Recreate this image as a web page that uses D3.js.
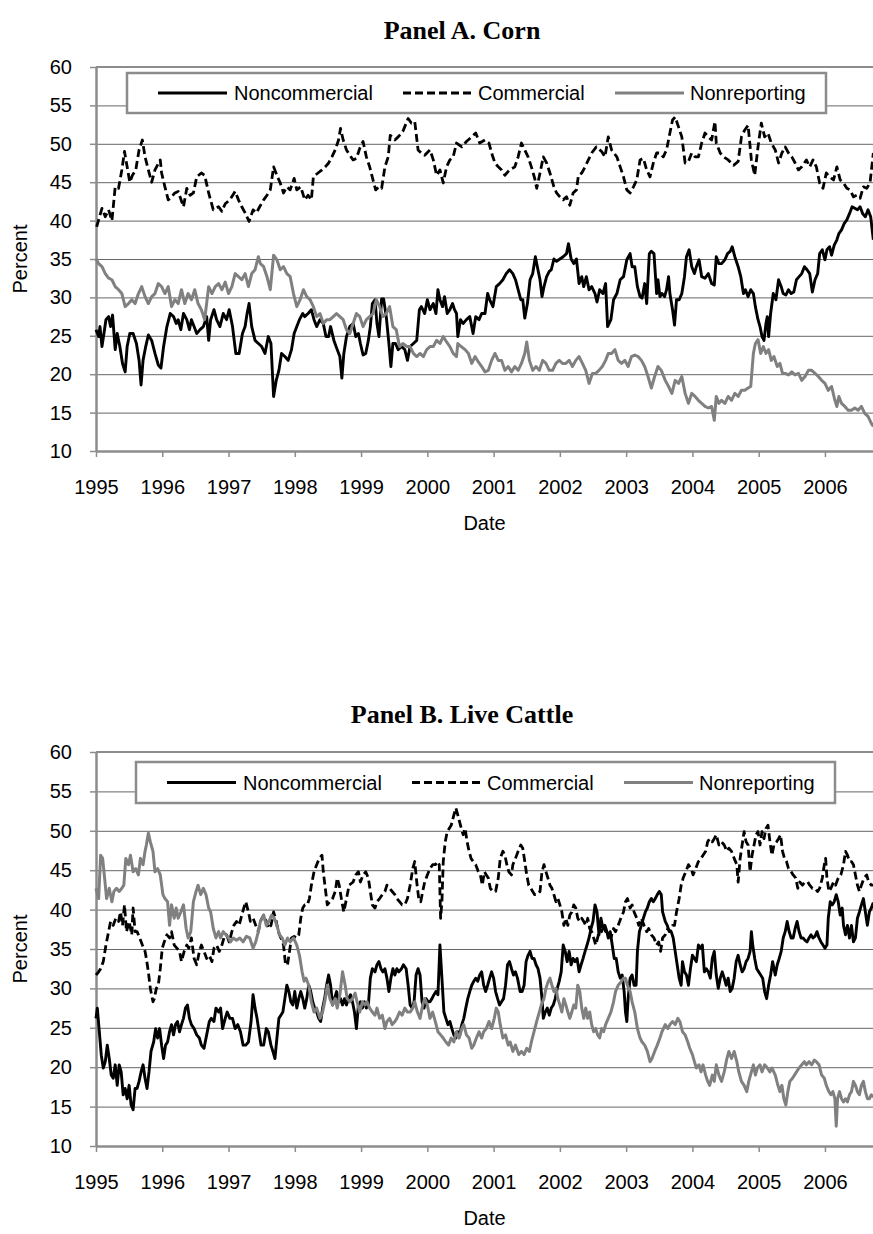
<!DOCTYPE html>
<html>
<head>
<meta charset="utf-8">
<script src="https://cdn.jsdelivr.net/npm/d3@7"></script>
<style>
  html, body { margin: 0; padding: 0; background: #fff; }
  svg { display: block; }
</style>
</head>
<body>
<svg id="chart" width="873" height="1234"></svg>
<script>
// ---- Tick labels -------------------------------------------------------
const yearTicks = [1995, 1996, 1997, 1998, 1999, 2000, 2001, 2002, 2003, 2004, 2005, 2006];
const percentTicks = [10, 15, 20, 25, 30, 35, 40, 45, 50, 55, 60];
const seriesNames = ["Noncommercial", "Commercial", "Nonreporting"];
const panelTitles = ["Panel A. Corn", "Panel B. Live Cattle"];

// ---- Panel A: Corn, share of open interest [decimal year, percent] ------
const cornNoncommercial = [
  [1995.00,25.8],[1995.04,24.9],[1995.06,26.2],[1995.09,23.6],[1995.12,25.3],[1995.15,27.1],[1995.19,27.5],[1995.22,26.2],
  [1995.25,27.7],[1995.29,23.2],[1995.32,25.3],[1995.36,23.6],[1995.40,21.4],[1995.44,20.3],[1995.47,23.6],[1995.51,25.3],
  [1995.56,25.3],[1995.61,24.0],[1995.65,21.8],[1995.68,18.6],[1995.71,21.8],[1995.75,23.6],[1995.79,25.1],[1995.84,24.4],
  [1995.89,22.7],[1995.94,21.2],[1995.98,20.8],[1996.02,23.6],[1996.07,26.2],[1996.12,27.9],[1996.17,27.5],[1996.21,26.6],
  [1996.24,27.1],[1996.28,25.8],[1996.32,27.9],[1996.37,27.1],[1996.41,25.8],[1996.44,27.1],[1996.48,26.2],[1996.52,25.3],
  [1996.57,25.8],[1996.62,26.2],[1996.67,27.5],[1996.70,24.4],[1996.73,27.1],[1996.78,28.4],[1996.82,27.1],[1996.87,26.2],
  [1996.92,27.9],[1996.97,27.1],[1997.01,28.4],[1997.06,26.2],[1997.11,22.7],[1997.16,22.7],[1997.21,25.3],[1997.25,26.2],
  [1997.28,27.9],[1997.31,29.2],[1997.35,26.2],[1997.40,24.4],[1997.45,24.0],[1997.50,23.6],[1997.55,22.7],[1997.60,24.9],
  [1997.64,24.0],[1997.68,17.1],[1997.72,19.2],[1997.76,20.5],[1997.80,22.7],[1997.85,22.3],[1997.90,21.8],[1997.95,23.2],
  [1997.99,25.3],[1998.03,26.2],[1998.07,27.1],[1998.12,27.9],[1998.15,27.5],[1998.20,27.9],[1998.25,28.4],[1998.29,27.1],
  [1998.33,26.2],[1998.38,27.1],[1998.43,26.6],[1998.47,24.9],[1998.51,24.9],[1998.54,26.2],[1998.59,24.4],[1998.64,23.2],
  [1998.68,22.3],[1998.71,19.5],[1998.74,22.7],[1998.78,24.9],[1998.83,26.2],[1998.88,26.6],[1998.92,24.9],[1998.96,25.3],
  [1998.99,24.0],[1999.03,22.5],[1999.07,22.7],[1999.11,24.4],[1999.14,26.2],[1999.17,29.2],[1999.21,29.7],[1999.24,26.6],
  [1999.27,24.9],[1999.31,29.8],[1999.34,29.8],[1999.38,27.5],[1999.42,24.0],[1999.45,21.0],[1999.48,24.0],[1999.52,24.0],
  [1999.56,23.2],[1999.61,23.6],[1999.66,23.2],[1999.70,21.8],[1999.74,23.6],[1999.79,24.0],[1999.84,24.4],[1999.88,28.4],
  [1999.91,28.8],[1999.96,27.9],[2000.00,29.7],[2000.04,28.4],[2000.09,29.2],[2000.13,27.9],[2000.16,31.0],[2000.19,29.7],
  [2000.23,28.8],[2000.26,30.1],[2000.30,27.9],[2000.34,28.4],[2000.38,29.2],[2000.41,28.4],[2000.44,27.9],[2000.46,24.9],
  [2000.50,27.1],[2000.54,26.6],[2000.59,27.1],[2000.64,27.5],[2000.69,25.3],[2000.73,27.5],[2000.78,27.1],[2000.82,27.9],
  [2000.87,27.9],[2000.91,30.5],[2000.94,29.7],[2000.99,28.8],[2001.04,31.4],[2001.09,31.8],[2001.14,32.3],[2001.19,33.1],
  [2001.24,33.6],[2001.29,33.1],[2001.33,32.3],[2001.37,31.0],[2001.41,29.7],[2001.44,29.7],[2001.47,27.3],[2001.51,29.2],
  [2001.55,32.3],[2001.59,33.1],[2001.63,35.3],[2001.66,34.0],[2001.70,32.3],[2001.73,30.1],[2001.76,31.4],[2001.80,32.7],
  [2001.84,33.4],[2001.87,33.6],[2001.91,35.0],[2001.95,34.7],[2002.00,35.0],[2002.05,35.3],[2002.10,35.7],[2002.13,37.0],
  [2002.17,35.0],[2002.21,34.4],[2002.25,35.0],[2002.29,31.8],[2002.33,32.7],[2002.36,31.4],[2002.40,32.7],[2002.44,31.0],
  [2002.48,31.4],[2002.53,30.5],[2002.56,29.4],[2002.60,31.0],[2002.65,30.5],[2002.69,31.8],[2002.72,26.2],[2002.77,27.1],
  [2002.81,29.7],[2002.86,30.5],[2002.91,32.3],[2002.96,32.7],[2003.01,34.9],[2003.06,35.7],[2003.09,34.0],[2003.13,34.0],
  [2003.17,31.4],[2003.21,30.1],[2003.24,29.9],[2003.28,31.8],[2003.31,29.2],[2003.35,35.7],[2003.38,36.0],[2003.42,35.7],
  [2003.46,30.5],[2003.48,32.3],[2003.51,30.1],[2003.54,30.5],[2003.58,30.1],[2003.61,31.0],[2003.64,32.7],[2003.66,30.5],
  [2003.70,28.4],[2003.73,26.4],[2003.76,29.7],[2003.80,29.7],[2003.84,30.5],[2003.88,32.7],[2003.91,35.3],[2003.95,36.2],
  [2003.99,34.0],[2004.03,33.1],[2004.06,34.0],[2004.10,34.9],[2004.14,32.7],[2004.19,32.5],[2004.24,33.1],[2004.29,31.8],
  [2004.33,31.6],[2004.36,35.3],[2004.40,34.4],[2004.44,34.4],[2004.49,34.9],[2004.53,35.7],[2004.57,36.0],[2004.60,36.6],
  [2004.64,35.3],[2004.69,34.0],[2004.73,32.7],[2004.77,30.5],[2004.80,31.0],[2004.84,30.1],[2004.88,31.0],[2004.92,30.5],
  [2004.95,28.8],[2004.99,27.1],[2005.02,26.2],[2005.05,24.9],[2005.08,24.4],[2005.11,26.6],[2005.13,27.5],[2005.15,24.9],
  [2005.18,27.9],[2005.22,30.5],[2005.26,29.7],[2005.30,32.3],[2005.34,31.4],[2005.37,30.5],[2005.41,30.3],[2005.45,31.0],
  [2005.49,30.5],[2005.53,30.7],[2005.57,32.3],[2005.61,32.7],[2005.65,33.1],[2005.69,34.0],[2005.73,33.6],[2005.77,33.1],
  [2005.81,30.7],[2005.85,32.3],[2005.89,33.1],[2005.92,35.7],[2005.96,36.2],[2006.00,34.9],[2006.03,36.2],[2006.07,36.6],
  [2006.10,35.5],[2006.14,36.8],[2006.18,37.5],[2006.21,38.3],[2006.25,38.8],[2006.29,39.6],[2006.33,40.1],[2006.37,40.9],
  [2006.41,41.8],[2006.45,41.6],[2006.49,41.4],[2006.53,41.8],[2006.57,40.9],[2006.61,40.5],[2006.65,41.4],[2006.69,40.5],
  [2006.73,37.5]
];

const cornCommercial = [
  [1995.01,39.2],[1995.09,41.6],[1995.14,40.5],[1995.19,41.4],[1995.24,40.0],[1995.29,44.4],[1995.34,44.2],[1995.39,46.6],
  [1995.43,49.0],[1995.47,47.0],[1995.51,45.0],[1995.55,45.9],[1995.60,46.6],[1995.65,49.2],[1995.70,50.5],[1995.74,48.3],
  [1995.79,46.6],[1995.84,45.0],[1995.89,46.6],[1995.97,47.9],[1995.99,46.2],[1996.04,44.4],[1996.09,42.7],[1996.14,43.1],
  [1996.19,43.6],[1996.24,43.8],[1996.32,41.8],[1996.37,44.2],[1996.42,43.3],[1996.47,43.6],[1996.52,45.7],[1996.59,46.2],
  [1996.64,45.9],[1996.70,43.6],[1996.77,41.4],[1996.85,41.8],[1996.90,41.2],[1996.95,42.2],[1997.02,42.7],[1997.10,43.8],
  [1997.15,42.7],[1997.20,41.8],[1997.25,41.0],[1997.31,39.9],[1997.37,41.4],[1997.42,41.0],[1997.47,41.8],[1997.53,42.7],
  [1997.58,43.3],[1997.63,44.0],[1997.68,47.0],[1997.73,45.9],[1997.78,44.9],[1997.83,43.6],[1997.88,44.4],[1997.93,44.0],
  [1997.99,45.5],[1998.03,44.0],[1998.09,44.4],[1998.15,42.7],[1998.20,43.3],[1998.25,42.7],[1998.28,45.7],[1998.35,46.2],
  [1998.41,46.6],[1998.46,47.0],[1998.51,47.5],[1998.56,48.3],[1998.61,49.2],[1998.66,50.5],[1998.69,52.0],[1998.73,50.5],
  [1998.78,49.2],[1998.83,48.5],[1998.88,47.9],[1998.93,48.1],[1998.98,49.4],[1999.03,50.3],[1999.08,48.3],[1999.13,47.0],
  [1999.18,45.3],[1999.22,44.0],[1999.27,44.4],[1999.31,44.2],[1999.36,47.0],[1999.41,48.3],[1999.44,51.1],[1999.51,50.5],
  [1999.56,50.9],[1999.63,51.6],[1999.71,53.3],[1999.76,52.7],[1999.81,52.9],[1999.86,49.2],[1999.91,48.8],[1999.96,48.5],
  [2000.04,49.2],[2000.09,47.9],[2000.14,45.9],[2000.19,46.6],[2000.24,44.9],[2000.29,47.0],[2000.34,47.9],[2000.39,48.3],
  [2000.44,50.1],[2000.52,49.6],[2000.59,50.3],[2000.67,50.9],[2000.73,51.4],[2000.79,50.1],[2000.87,50.5],[2000.93,50.1],
  [2000.97,48.8],[2001.02,47.5],[2001.07,47.0],[2001.12,46.6],[2001.17,45.9],[2001.24,46.6],[2001.32,47.0],[2001.37,48.3],
  [2001.42,50.1],[2001.47,49.2],[2001.52,48.3],[2001.57,47.0],[2001.62,45.5],[2001.65,44.2],[2001.70,46.2],[2001.75,48.3],
  [2001.80,47.5],[2001.85,46.2],[2001.91,44.4],[2001.95,43.6],[2002.00,43.1],[2002.05,42.7],[2002.10,43.1],[2002.15,42.0],
  [2002.20,43.6],[2002.25,44.0],[2002.28,45.9],[2002.33,46.2],[2002.38,47.0],[2002.43,47.9],[2002.48,48.8],[2002.55,49.6],
  [2002.63,49.0],[2002.68,48.3],[2002.73,50.9],[2002.78,49.2],[2002.86,48.3],[2002.91,47.0],[2002.96,45.7],[2003.01,44.0],
  [2003.06,43.6],[2003.11,44.4],[2003.16,45.3],[2003.21,47.9],[2003.26,48.1],[2003.31,46.6],[2003.36,45.7],[2003.41,47.5],
  [2003.46,48.8],[2003.51,48.8],[2003.56,48.3],[2003.61,49.2],[2003.66,51.4],[2003.70,53.1],[2003.74,53.5],[2003.79,52.2],
  [2003.84,50.9],[2003.89,47.5],[2003.94,47.7],[2003.99,48.8],[2004.04,48.3],[2004.09,48.3],[2004.14,50.1],[2004.19,51.4],
  [2004.24,50.9],[2004.29,50.5],[2004.34,52.9],[2004.36,50.1],[2004.42,48.8],[2004.47,48.3],[2004.54,47.9],[2004.62,47.2],
  [2004.69,47.7],[2004.74,50.9],[2004.79,51.8],[2004.84,52.4],[2004.89,47.9],[2004.94,45.9],[2004.99,49.6],[2005.04,52.7],
  [2005.09,50.9],[2005.14,51.4],[2005.19,50.1],[2005.25,49.2],[2005.30,47.5],[2005.35,48.8],[2005.40,49.6],[2005.45,48.8],
  [2005.50,48.3],[2005.55,47.5],[2005.60,46.6],[2005.65,47.0],[2005.72,47.9],[2005.77,47.0],[2005.82,47.9],[2005.87,47.0],
  [2005.92,44.9],[2005.97,44.2],[2006.02,46.2],[2006.07,45.7],[2006.13,45.3],[2006.18,47.0],[2006.23,45.3],[2006.28,44.9],
  [2006.33,44.2],[2006.38,44.0],[2006.43,43.1],[2006.48,43.3],[2006.53,42.9],[2006.58,44.4],[2006.63,44.2],[2006.68,44.9],
  [2006.73,48.8]
];

const cornNonreporting = [
  [1995.00,35.0],[1995.04,34.4],[1995.09,34.0],[1995.14,33.1],[1995.19,32.5],[1995.24,32.3],[1995.29,31.4],[1995.34,31.0],
  [1995.39,30.5],[1995.44,28.8],[1995.49,29.2],[1995.54,29.7],[1995.59,29.2],[1995.64,30.5],[1995.69,31.4],[1995.74,30.1],
  [1995.79,29.2],[1995.84,30.1],[1995.89,30.5],[1995.94,31.8],[1995.99,31.4],[1996.04,30.5],[1996.09,31.4],[1996.14,28.8],
  [1996.19,29.7],[1996.24,29.2],[1996.29,31.0],[1996.34,29.2],[1996.39,30.5],[1996.44,29.7],[1996.49,31.0],[1996.54,29.2],
  [1996.59,28.4],[1996.64,27.1],[1996.70,31.4],[1996.75,30.5],[1996.80,31.4],[1996.85,31.8],[1996.90,31.0],[1996.95,32.0],
  [1997.00,30.5],[1997.05,31.4],[1997.10,33.1],[1997.15,32.7],[1997.20,32.3],[1997.25,33.1],[1997.30,31.4],[1997.35,33.1],
  [1997.40,33.6],[1997.45,35.3],[1997.48,34.4],[1997.53,34.0],[1997.58,32.7],[1997.63,31.0],[1997.68,35.5],[1997.73,34.9],
  [1997.78,33.6],[1997.83,34.0],[1997.88,33.1],[1997.93,32.7],[1997.98,30.5],[1998.03,28.8],[1998.08,29.7],[1998.13,31.0],
  [1998.18,30.1],[1998.23,29.7],[1998.28,28.8],[1998.33,27.5],[1998.38,27.9],[1998.43,26.6],[1998.48,27.1],[1998.53,27.1],
  [1998.58,27.5],[1998.63,27.9],[1998.68,27.5],[1998.73,27.1],[1998.78,25.8],[1998.83,25.3],[1998.88,26.6],[1998.93,27.9],
  [1998.98,27.5],[1999.03,26.2],[1999.08,27.1],[1999.13,27.5],[1999.18,27.9],[1999.23,29.7],[1999.28,28.8],[1999.33,27.5],
  [1999.38,27.9],[1999.43,28.8],[1999.48,26.2],[1999.53,25.8],[1999.58,23.6],[1999.63,24.0],[1999.69,23.6],[1999.74,23.6],
  [1999.79,22.7],[1999.84,22.3],[1999.89,22.7],[1999.94,22.3],[1999.99,23.2],[2000.04,23.6],[2000.09,23.6],[2000.14,24.4],
  [2000.19,24.0],[2000.24,24.9],[2000.29,24.2],[2000.34,23.6],[2000.39,22.7],[2000.44,22.3],[2000.46,24.0],[2000.51,23.6],
  [2000.57,23.2],[2000.62,22.7],[2000.67,21.4],[2000.72,22.3],[2000.77,21.6],[2000.82,21.0],[2000.87,20.3],[2000.92,20.5],
  [2000.97,21.8],[2001.02,22.7],[2001.07,21.8],[2001.12,21.8],[2001.17,20.5],[2001.22,21.0],[2001.27,20.3],[2001.32,21.0],
  [2001.37,20.5],[2001.42,21.4],[2001.47,22.7],[2001.50,24.2],[2001.54,21.8],[2001.59,20.5],[2001.64,21.0],[2001.69,20.5],
  [2001.74,21.8],[2001.79,21.4],[2001.84,20.5],[2001.89,20.5],[2001.94,21.4],[2001.99,21.8],[2002.04,21.4],[2002.09,21.4],
  [2002.14,21.8],[2002.19,21.0],[2002.24,21.8],[2002.29,22.3],[2002.34,21.4],[2002.39,20.5],[2002.44,18.8],[2002.49,20.1],
  [2002.54,20.1],[2002.59,20.5],[2002.64,21.0],[2002.69,21.8],[2002.73,22.7],[2002.78,22.7],[2002.83,23.2],[2002.88,21.8],
  [2002.93,21.4],[2002.98,21.8],[2003.03,21.0],[2003.08,22.3],[2003.13,22.5],[2003.18,22.3],[2003.23,21.8],[2003.28,21.0],
  [2003.33,19.7],[2003.38,18.2],[2003.43,19.7],[2003.48,21.0],[2003.53,20.5],[2003.59,19.2],[2003.64,18.4],[2003.69,17.5],
  [2003.74,19.2],[2003.79,18.8],[2003.84,19.7],[2003.89,17.5],[2003.94,16.2],[2003.99,17.5],[2004.04,17.1],[2004.09,16.6],
  [2004.14,16.2],[2004.19,15.8],[2004.24,15.6],[2004.29,15.8],[2004.33,14.0],[2004.36,17.1],[2004.40,16.2],[2004.44,16.6],
  [2004.49,16.2],[2004.54,17.1],[2004.59,16.6],[2004.64,17.5],[2004.69,17.1],[2004.74,17.9],[2004.79,17.9],[2004.84,18.2],
  [2004.88,18.4],[2004.92,22.7],[2004.95,24.0],[2004.99,24.5],[2005.03,22.7],[2005.07,23.6],[2005.11,22.7],[2005.15,23.2],
  [2005.19,21.8],[2005.23,22.3],[2005.28,21.0],[2005.32,21.4],[2005.36,20.1],[2005.40,20.1],[2005.45,19.9],[2005.50,20.3],
  [2005.55,19.9],[2005.60,20.1],[2005.65,19.2],[2005.70,19.7],[2005.75,20.5],[2005.80,20.5],[2005.85,20.1],[2005.90,19.7],
  [2005.95,19.2],[2006.00,18.8],[2006.05,17.9],[2006.10,18.4],[2006.15,16.6],[2006.18,15.8],[2006.21,17.1],[2006.25,16.2],
  [2006.30,15.8],[2006.35,15.3],[2006.40,15.3],[2006.45,15.6],[2006.50,15.3],[2006.55,15.8],[2006.60,14.9],[2006.65,14.5],
  [2006.70,13.6],[2006.73,13.2]
];

// ---- Panel B: Live Cattle ------------------------------------------------
const cattleNoncommercial = [
  [1995.00,26.2],[1995.02,27.5],[1995.05,24.5],[1995.08,21.5],[1995.11,19.9],[1995.14,20.7],[1995.17,22.8],[1995.20,21.1],
  [1995.23,19.0],[1995.26,18.6],[1995.29,20.3],[1995.32,17.7],[1995.35,20.3],[1995.38,19.4],[1995.41,16.5],[1995.44,17.3],
  [1995.47,16.0],[1995.50,17.7],[1995.53,15.2],[1995.56,14.6],[1995.59,17.3],[1995.62,17.3],[1995.65,18.2],[1995.68,19.4],
  [1995.71,20.3],[1995.74,18.6],[1995.77,17.3],[1995.80,19.4],[1995.83,22.0],[1995.87,23.2],[1995.90,24.9],[1995.93,23.7],
  [1995.96,24.9],[1995.99,22.8],[1996.02,21.1],[1996.05,22.8],[1996.08,23.2],[1996.11,24.5],[1996.14,25.4],[1996.17,24.1],
  [1996.20,25.4],[1996.23,25.8],[1996.26,24.5],[1996.29,25.4],[1996.32,26.2],[1996.35,27.5],[1996.38,27.9],[1996.41,26.2],
  [1996.44,25.4],[1996.48,24.9],[1996.52,24.1],[1996.56,23.7],[1996.59,22.8],[1996.63,22.4],[1996.67,24.1],[1996.71,25.8],
  [1996.74,26.2],[1996.78,25.8],[1996.81,27.5],[1996.85,27.0],[1996.88,27.5],[1996.91,24.9],[1996.95,26.2],[1996.98,27.0],
  [1997.02,26.2],[1997.06,26.2],[1997.10,24.9],[1997.14,25.4],[1997.18,24.5],[1997.22,22.8],[1997.26,22.8],[1997.30,23.2],
  [1997.34,25.8],[1997.37,29.2],[1997.40,27.5],[1997.43,26.2],[1997.46,24.5],[1997.49,22.8],[1997.53,22.8],[1997.57,24.9],
  [1997.60,24.5],[1997.64,22.8],[1997.67,22.0],[1997.70,21.1],[1997.73,23.7],[1997.76,26.2],[1997.79,26.6],[1997.82,27.0],
  [1997.85,28.7],[1997.88,30.4],[1997.91,29.6],[1997.94,28.3],[1997.97,27.9],[1998.00,29.6],[1998.03,27.5],[1998.06,28.7],
  [1998.09,29.6],[1998.12,28.7],[1998.15,27.5],[1998.18,28.7],[1998.21,30.4],[1998.24,29.6],[1998.27,28.3],[1998.30,27.5],
  [1998.33,27.0],[1998.36,26.2],[1998.39,25.8],[1998.42,27.5],[1998.45,28.7],[1998.48,30.4],[1998.51,31.7],[1998.54,30.4],
  [1998.57,27.9],[1998.60,28.7],[1998.63,29.6],[1998.66,28.3],[1998.69,28.7],[1998.72,27.9],[1998.75,28.7],[1998.78,27.9],
  [1998.81,28.7],[1998.84,29.2],[1998.87,28.3],[1998.90,27.0],[1998.93,24.9],[1998.96,27.9],[1998.99,28.3],[1999.02,27.5],
  [1999.05,28.3],[1999.08,27.5],[1999.11,27.9],[1999.14,31.3],[1999.17,32.5],[1999.21,32.1],[1999.24,33.0],[1999.27,33.4],
  [1999.30,32.5],[1999.33,32.1],[1999.36,32.5],[1999.39,31.3],[1999.42,29.6],[1999.45,31.3],[1999.48,32.5],[1999.51,31.7],
  [1999.54,32.5],[1999.57,32.1],[1999.61,32.5],[1999.64,33.0],[1999.68,32.5],[1999.71,30.4],[1999.74,27.9],[1999.77,27.5],
  [1999.80,28.3],[1999.83,31.7],[1999.86,32.5],[1999.89,31.7],[1999.92,28.3],[1999.95,27.5],[1999.98,28.7],[2000.01,28.3],
  [2000.04,28.3],[2000.07,28.7],[2000.10,29.2],[2000.13,29.6],[2000.16,29.2],[2000.19,35.5],[2000.22,31.3],[2000.25,27.0],
  [2000.28,26.2],[2000.31,25.4],[2000.34,25.8],[2000.37,24.9],[2000.40,24.1],[2000.43,23.7],[2000.46,24.5],[2000.49,24.1],
  [2000.52,25.4],[2000.55,26.2],[2000.58,27.5],[2000.61,28.7],[2000.64,29.6],[2000.67,30.4],[2000.70,30.9],[2000.73,31.3],
  [2000.76,30.9],[2000.79,31.7],[2000.82,32.1],[2000.85,30.4],[2000.88,29.6],[2000.91,30.4],[2000.94,31.3],[2000.97,32.1],
  [2001.00,31.3],[2001.03,29.6],[2001.06,28.7],[2001.09,27.9],[2001.12,28.3],[2001.15,28.7],[2001.18,30.4],[2001.21,33.0],
  [2001.24,33.4],[2001.27,32.5],[2001.30,31.7],[2001.33,32.1],[2001.36,31.3],[2001.40,29.6],[2001.43,29.6],[2001.46,30.4],
  [2001.49,33.4],[2001.52,34.2],[2001.55,34.7],[2001.58,33.8],[2001.61,33.8],[2001.64,33.0],[2001.67,32.5],[2001.70,31.3],
  [2001.73,28.7],[2001.75,26.2],[2001.78,27.0],[2001.81,27.5],[2001.84,26.6],[2001.87,27.5],[2001.90,27.9],[2001.93,28.7],
  [2001.96,30.0],[2001.99,30.9],[2002.02,32.1],[2002.05,35.5],[2002.08,34.7],[2002.11,33.4],[2002.14,34.7],[2002.17,33.0],
  [2002.20,33.8],[2002.23,33.4],[2002.26,33.8],[2002.29,32.1],[2002.32,33.0],[2002.35,33.8],[2002.38,34.7],[2002.41,35.5],
  [2002.44,36.4],[2002.47,37.6],[2002.50,38.5],[2002.53,40.6],[2002.56,39.7],[2002.59,36.8],[2002.62,38.9],[2002.65,37.6],
  [2002.68,38.0],[2002.71,37.2],[2002.73,36.4],[2002.76,37.2],[2002.79,35.5],[2002.82,33.8],[2002.85,33.8],[2002.88,32.1],
  [2002.91,31.3],[2002.94,31.7],[2002.97,29.6],[2002.99,27.0],[2003.01,25.8],[2003.03,28.7],[2003.06,31.3],[2003.09,31.7],
  [2003.12,30.4],[2003.15,30.4],[2003.17,34.7],[2003.20,37.2],[2003.23,38.0],[2003.26,38.9],[2003.29,39.7],[2003.32,40.2],
  [2003.35,41.0],[2003.38,41.4],[2003.41,41.0],[2003.44,41.4],[2003.47,41.9],[2003.50,42.3],[2003.53,41.9],[2003.55,39.7],
  [2003.59,38.5],[2003.62,38.0],[2003.65,37.2],[2003.68,37.2],[2003.71,36.4],[2003.74,34.7],[2003.77,33.0],[2003.80,31.3],
  [2003.83,30.4],[2003.85,33.4],[2003.88,32.1],[2003.91,31.7],[2003.94,30.4],[2003.97,32.5],[2004.00,34.2],[2004.03,33.8],
  [2004.06,33.4],[2004.09,35.5],[2004.12,35.1],[2004.15,35.5],[2004.18,32.1],[2004.21,32.5],[2004.24,32.1],[2004.27,31.3],
  [2004.30,33.8],[2004.33,34.7],[2004.36,31.7],[2004.39,30.0],[2004.42,31.3],[2004.45,32.1],[2004.48,31.3],[2004.51,30.4],
  [2004.54,31.3],[2004.57,29.6],[2004.60,30.0],[2004.63,31.3],[2004.66,33.4],[2004.69,34.2],[2004.72,33.0],[2004.75,32.1],
  [2004.78,32.5],[2004.81,33.4],[2004.84,33.8],[2004.87,34.7],[2004.89,37.2],[2004.91,35.5],[2004.94,33.8],[2004.97,32.5],
  [2005.00,32.1],[2005.03,31.7],[2005.06,31.3],[2005.09,29.6],[2005.12,28.7],[2005.15,30.4],[2005.18,31.7],[2005.21,33.4],
  [2005.25,31.7],[2005.28,33.0],[2005.31,33.8],[2005.34,34.7],[2005.37,36.4],[2005.40,37.2],[2005.43,38.5],[2005.46,37.2],
  [2005.49,36.4],[2005.52,36.4],[2005.55,37.6],[2005.58,38.5],[2005.61,37.2],[2005.64,36.4],[2005.67,36.4],[2005.70,36.1],
  [2005.73,35.9],[2005.76,36.4],[2005.79,36.8],[2005.82,36.4],[2005.85,36.6],[2005.88,37.2],[2005.91,36.4],[2005.94,35.9],
  [2005.97,35.5],[2006.00,35.1],[2006.03,35.5],[2006.05,38.9],[2006.08,41.0],[2006.11,40.6],[2006.14,41.0],[2006.17,41.9],
  [2006.20,41.0],[2006.23,39.3],[2006.26,40.2],[2006.28,38.0],[2006.31,36.8],[2006.34,38.0],[2006.37,36.4],[2006.40,38.0],
  [2006.43,35.9],[2006.46,36.4],[2006.49,38.9],[2006.52,39.7],[2006.55,40.6],[2006.58,41.4],[2006.61,39.7],[2006.64,38.0],
  [2006.67,39.7],[2006.70,40.2],[2006.73,40.9]
];

const cattleCommercial = [
  [1995.00,31.7],[1995.04,32.1],[1995.07,32.5],[1995.11,33.4],[1995.15,35.5],[1995.19,37.2],[1995.22,38.5],[1995.26,38.0],
  [1995.30,38.9],[1995.34,38.5],[1995.37,39.7],[1995.40,38.0],[1995.43,40.6],[1995.46,37.2],[1995.50,38.5],[1995.54,36.8],
  [1995.56,40.2],[1995.59,37.2],[1995.62,37.2],[1995.66,36.4],[1995.70,35.5],[1995.74,34.7],[1995.76,33.8],[1995.79,32.1],
  [1995.82,30.0],[1995.86,28.3],[1995.88,28.7],[1995.91,30.0],[1995.94,30.4],[1995.97,32.5],[1996.00,35.1],[1996.03,35.9],
  [1996.07,36.8],[1996.11,36.4],[1996.14,37.2],[1996.18,35.5],[1996.22,35.1],[1996.26,34.7],[1996.29,33.4],[1996.33,34.7],
  [1996.37,35.5],[1996.40,35.1],[1996.44,36.4],[1996.48,33.8],[1996.52,33.0],[1996.56,34.7],[1996.59,35.5],[1996.63,34.7],
  [1996.67,33.8],[1996.71,34.2],[1996.75,33.4],[1996.78,35.1],[1996.82,35.5],[1996.86,34.7],[1996.90,35.5],[1996.93,36.4],
  [1996.97,36.8],[1997.01,35.9],[1997.05,37.2],[1997.08,38.0],[1997.12,38.5],[1997.16,38.0],[1997.20,39.3],[1997.23,40.2],
  [1997.26,41.0],[1997.30,39.7],[1997.33,38.5],[1997.37,38.9],[1997.41,38.0],[1997.45,37.2],[1997.48,38.5],[1997.53,39.3],
  [1997.57,38.5],[1997.60,37.6],[1997.64,38.0],[1997.68,39.7],[1997.72,38.5],[1997.75,37.2],[1997.79,36.4],[1997.83,35.5],
  [1997.86,33.0],[1997.89,33.0],[1997.92,34.7],[1997.95,36.4],[1997.99,36.6],[1998.03,36.4],[1998.06,36.8],[1998.09,38.9],
  [1998.12,40.2],[1998.15,40.6],[1998.19,40.6],[1998.22,41.4],[1998.25,43.1],[1998.29,44.8],[1998.33,45.7],[1998.37,46.5],
  [1998.41,46.9],[1998.43,44.8],[1998.46,42.7],[1998.49,40.6],[1998.53,41.0],[1998.57,41.4],[1998.61,42.3],[1998.64,44.0],
  [1998.67,43.1],[1998.71,41.0],[1998.74,39.7],[1998.78,41.4],[1998.82,43.1],[1998.88,43.5],[1998.92,44.4],[1998.96,44.8],
  [1998.99,43.5],[1999.03,44.4],[1999.07,44.8],[1999.11,44.0],[1999.14,42.3],[1999.17,40.6],[1999.21,40.2],[1999.24,41.0],
  [1999.28,41.4],[1999.32,41.9],[1999.36,42.3],[1999.39,43.1],[1999.43,42.7],[1999.47,42.3],[1999.51,41.9],[1999.54,41.4],
  [1999.58,41.0],[1999.62,40.6],[1999.66,40.6],[1999.70,41.4],[1999.74,43.1],[1999.78,45.2],[1999.81,46.1],[1999.84,43.5],
  [1999.87,41.4],[1999.90,41.0],[1999.93,42.3],[1999.96,43.5],[2000.00,44.4],[2000.04,45.2],[2000.08,45.7],[2000.12,45.7],
  [2000.15,46.1],[2000.18,45.7],[2000.20,38.9],[2000.22,41.0],[2000.24,46.1],[2000.27,48.6],[2000.30,49.9],[2000.33,50.3],
  [2000.36,50.7],[2000.40,52.0],[2000.43,52.9],[2000.46,52.0],[2000.50,50.7],[2000.54,49.5],[2000.57,50.3],[2000.60,48.6],
  [2000.63,47.4],[2000.66,46.5],[2000.69,46.1],[2000.73,45.7],[2000.77,44.8],[2000.80,44.4],[2000.83,43.1],[2000.86,44.8],
  [2000.89,44.4],[2000.92,44.0],[2000.95,42.7],[2000.99,42.3],[2001.03,42.3],[2001.07,44.0],[2001.10,46.5],[2001.14,47.4],
  [2001.17,46.9],[2001.20,45.7],[2001.23,44.8],[2001.27,44.4],[2001.29,45.7],[2001.33,46.5],[2001.37,47.4],[2001.41,48.2],
  [2001.44,47.8],[2001.47,46.1],[2001.50,44.4],[2001.53,43.1],[2001.56,42.7],[2001.59,42.3],[2001.62,41.9],[2001.66,41.9],
  [2001.70,42.3],[2001.73,44.8],[2001.76,45.7],[2001.79,44.8],[2001.82,44.0],[2001.85,43.1],[2001.88,42.7],[2001.91,41.9],
  [2001.94,41.0],[2001.97,41.4],[2002.00,40.6],[2002.03,39.7],[2002.06,38.0],[2002.09,38.9],[2002.12,38.0],[2002.15,39.3],
  [2002.18,39.7],[2002.21,40.6],[2002.24,40.2],[2002.27,38.9],[2002.30,38.5],[2002.33,38.9],[2002.36,38.5],[2002.39,38.0],
  [2002.42,38.9],[2002.45,37.6],[2002.48,37.2],[2002.51,36.4],[2002.54,35.5],[2002.57,36.4],[2002.60,37.6],[2002.63,37.2],
  [2002.66,38.0],[2002.69,37.2],[2002.72,37.2],[2002.77,36.4],[2002.81,37.6],[2002.84,37.2],[2002.88,38.0],[2002.92,38.9],
  [2002.96,39.7],[2002.99,41.0],[2003.02,41.4],[2003.06,40.2],[2003.09,40.6],[2003.12,39.7],[2003.16,38.9],[2003.19,38.0],
  [2003.23,38.9],[2003.27,38.0],[2003.31,37.2],[2003.34,37.6],[2003.38,36.8],[2003.42,36.4],[2003.46,35.5],[2003.49,35.9],
  [2003.52,34.7],[2003.55,36.4],[2003.59,36.8],[2003.63,37.6],[2003.66,37.2],[2003.70,38.0],[2003.73,38.0],[2003.76,39.7],
  [2003.80,41.4],[2003.83,43.1],[2003.86,44.0],[2003.90,44.8],[2003.94,45.7],[2003.98,45.2],[2004.01,44.4],[2004.05,45.2],
  [2004.09,46.1],[2004.13,46.5],[2004.16,46.9],[2004.20,47.4],[2004.23,48.6],[2004.26,49.0],[2004.30,48.6],[2004.33,49.0],
  [2004.36,49.5],[2004.40,48.2],[2004.44,48.6],[2004.48,48.2],[2004.52,47.4],[2004.55,47.8],[2004.59,47.4],[2004.63,46.5],
  [2004.67,45.7],[2004.69,43.5],[2004.72,46.5],[2004.75,48.2],[2004.78,49.9],[2004.81,48.6],[2004.84,48.2],[2004.87,44.8],
  [2004.90,46.9],[2004.93,48.2],[2004.96,49.5],[2004.99,49.9],[2005.02,48.2],[2005.05,49.9],[2005.08,49.0],[2005.11,50.3],
  [2005.14,50.7],[2005.17,48.6],[2005.20,46.9],[2005.23,48.2],[2005.27,48.6],[2005.30,49.0],[2005.33,49.5],[2005.36,47.4],
  [2005.39,46.5],[2005.42,46.1],[2005.45,45.2],[2005.49,44.8],[2005.52,44.4],[2005.56,44.0],[2005.59,42.7],[2005.62,43.5],
  [2005.66,43.1],[2005.70,43.5],[2005.74,43.5],[2005.77,43.1],[2005.81,42.7],[2005.85,42.7],[2005.89,42.3],[2005.92,42.7],
  [2005.96,44.0],[2005.99,45.7],[2006.01,46.5],[2006.03,44.0],[2006.06,42.3],[2006.09,42.7],[2006.13,43.5],[2006.16,43.1],
  [2006.20,44.0],[2006.24,44.4],[2006.28,45.7],[2006.31,47.4],[2006.34,46.9],[2006.37,46.1],[2006.40,46.1],[2006.43,45.7],
  [2006.46,44.4],[2006.49,43.1],[2006.52,42.3],[2006.55,43.1],[2006.59,44.0],[2006.63,44.4],[2006.66,43.5],[2006.70,43.1],
  [2006.73,43.1]
];

const cattleNonreporting = [
  [1995.00,42.7],[1995.04,41.4],[1995.07,46.9],[1995.10,46.5],[1995.13,44.0],[1995.16,41.4],[1995.20,42.7],[1995.24,41.0],
  [1995.27,42.3],[1995.31,42.7],[1995.35,42.3],[1995.39,42.7],[1995.42,43.1],[1995.45,46.5],[1995.49,45.7],[1995.52,46.9],
  [1995.56,44.8],[1995.60,45.2],[1995.64,44.4],[1995.67,46.5],[1995.71,45.7],[1995.74,47.4],[1995.76,48.2],[1995.79,49.7],
  [1995.82,48.6],[1995.86,47.4],[1995.89,44.8],[1995.93,45.2],[1995.97,44.4],[1996.01,41.9],[1996.04,41.4],[1996.08,41.0],
  [1996.11,38.0],[1996.14,40.6],[1996.18,38.9],[1996.21,40.2],[1996.24,38.9],[1996.28,39.7],[1996.32,40.6],[1996.36,37.6],
  [1996.39,36.4],[1996.43,37.2],[1996.47,41.0],[1996.51,42.3],[1996.54,43.1],[1996.58,41.9],[1996.62,42.7],[1996.66,41.9],
  [1996.70,40.2],[1996.73,39.7],[1996.77,37.6],[1996.81,36.4],[1996.85,37.2],[1996.88,36.4],[1996.92,37.2],[1996.96,36.8],
  [1997.00,36.4],[1997.03,35.9],[1997.07,36.4],[1997.12,36.1],[1997.17,36.4],[1997.22,35.9],[1997.27,36.6],[1997.32,36.4],
  [1997.37,35.1],[1997.41,35.9],[1997.45,37.2],[1997.48,38.5],[1997.53,39.3],[1997.57,38.0],[1997.61,38.5],[1997.65,39.3],
  [1997.69,38.9],[1997.73,38.0],[1997.77,36.8],[1997.81,36.4],[1997.85,35.5],[1997.89,36.4],[1997.93,35.9],[1997.98,36.4],
  [1998.03,35.5],[1998.07,34.2],[1998.11,32.1],[1998.14,30.9],[1998.17,31.3],[1998.21,30.4],[1998.25,28.3],[1998.29,27.0],
  [1998.33,27.5],[1998.38,26.2],[1998.42,27.0],[1998.46,28.7],[1998.49,30.4],[1998.53,28.7],[1998.57,27.9],[1998.61,28.7],
  [1998.64,27.5],[1998.68,29.2],[1998.72,32.1],[1998.76,30.4],[1998.79,28.7],[1998.83,28.3],[1998.87,28.7],[1998.91,29.4],
  [1998.94,28.3],[1998.98,27.0],[1999.02,28.3],[1999.06,27.9],[1999.09,28.3],[1999.13,27.5],[1999.17,27.0],[1999.21,26.6],
  [1999.24,27.5],[1999.28,26.2],[1999.32,26.6],[1999.36,24.9],[1999.39,25.8],[1999.43,26.2],[1999.47,25.4],[1999.51,25.8],
  [1999.54,26.2],[1999.58,27.0],[1999.62,26.6],[1999.66,27.5],[1999.70,27.0],[1999.74,27.0],[1999.78,27.5],[1999.81,28.3],
  [1999.85,27.0],[1999.89,26.2],[1999.93,27.9],[1999.96,28.7],[2000.00,27.9],[2000.04,26.2],[2000.08,27.0],[2000.12,25.8],
  [2000.16,24.5],[2000.20,24.1],[2000.24,23.7],[2000.28,23.2],[2000.32,22.8],[2000.36,23.7],[2000.40,23.2],[2000.44,24.5],
  [2000.48,23.7],[2000.52,24.9],[2000.55,25.4],[2000.59,24.1],[2000.63,23.7],[2000.67,22.4],[2000.70,22.8],[2000.74,23.7],
  [2000.78,24.5],[2000.82,23.7],[2000.85,24.5],[2000.89,24.9],[2000.93,25.8],[2000.97,24.9],[2001.01,26.2],[2001.04,27.5],
  [2001.07,27.0],[2001.10,25.4],[2001.14,23.7],[2001.18,24.1],[2001.22,22.8],[2001.25,23.2],[2001.29,22.0],[2001.33,22.8],
  [2001.38,21.6],[2001.42,22.0],[2001.46,21.6],[2001.50,22.4],[2001.54,22.0],[2001.57,23.2],[2001.61,24.5],[2001.65,25.8],
  [2001.69,27.0],[2001.72,27.9],[2001.76,28.7],[2001.79,30.0],[2001.82,30.8],[2001.85,31.3],[2001.88,30.4],[2001.91,29.6],
  [2001.94,30.0],[2001.97,28.7],[2002.00,27.9],[2002.03,27.0],[2002.06,28.7],[2002.09,27.9],[2002.12,27.0],[2002.15,26.2],
  [2002.18,27.0],[2002.21,27.9],[2002.24,27.5],[2002.27,30.4],[2002.30,29.6],[2002.33,27.5],[2002.36,26.2],[2002.39,27.5],
  [2002.42,26.2],[2002.45,27.0],[2002.48,25.4],[2002.51,24.5],[2002.54,24.9],[2002.57,24.1],[2002.60,23.7],[2002.63,24.9],
  [2002.66,24.5],[2002.69,25.4],[2002.73,26.2],[2002.77,27.0],[2002.81,28.3],[2002.84,29.6],[2002.88,30.4],[2002.92,30.8],
  [2002.96,31.3],[2002.99,31.3],[2003.02,30.4],[2003.06,29.6],[2003.09,28.3],[2003.13,27.0],[2003.17,24.9],[2003.21,23.7],
  [2003.24,23.2],[2003.28,22.8],[2003.32,22.0],[2003.36,20.7],[2003.39,21.1],[2003.43,22.0],[2003.47,22.8],[2003.51,23.7],
  [2003.54,24.5],[2003.59,25.4],[2003.63,24.9],[2003.66,25.4],[2003.70,25.8],[2003.74,25.4],[2003.78,26.2],[2003.81,25.8],
  [2003.85,24.5],[2003.89,24.1],[2003.93,23.2],[2003.96,22.4],[2004.00,21.6],[2004.03,20.7],[2004.06,19.9],[2004.10,20.3],
  [2004.13,19.4],[2004.16,20.3],[2004.20,19.0],[2004.23,18.2],[2004.26,17.7],[2004.30,19.0],[2004.33,18.2],[2004.36,20.3],
  [2004.40,19.0],[2004.44,18.2],[2004.48,19.4],[2004.52,21.1],[2004.55,22.0],[2004.59,21.1],[2004.63,22.0],[2004.67,20.7],
  [2004.70,19.4],[2004.74,18.2],[2004.78,17.7],[2004.82,16.9],[2004.85,18.2],[2004.89,19.4],[2004.92,20.3],[2004.95,19.0],
  [2004.98,19.9],[2005.02,20.3],[2005.05,19.4],[2005.09,20.3],[2005.13,19.9],[2005.17,19.4],[2005.20,19.9],[2005.25,19.0],
  [2005.29,17.7],[2005.32,16.9],[2005.35,17.7],[2005.38,16.0],[2005.41,15.2],[2005.44,16.9],[2005.47,18.2],[2005.51,18.6],
  [2005.54,19.0],[2005.57,19.4],[2005.61,19.9],[2005.65,20.3],[2005.69,20.7],[2005.72,20.3],[2005.76,20.7],[2005.80,20.3],
  [2005.84,20.9],[2005.87,20.7],[2005.91,20.3],[2005.95,19.0],[2005.99,18.6],[2006.02,17.7],[2006.06,16.9],[2006.09,16.5],
  [2006.12,16.9],[2006.15,16.0],[2006.17,12.5],[2006.19,16.0],[2006.22,16.9],[2006.25,16.0],[2006.28,15.6],[2006.31,16.0],
  [2006.34,15.6],[2006.37,16.5],[2006.40,16.9],[2006.43,18.2],[2006.46,17.7],[2006.49,16.9],[2006.52,16.5],[2006.55,17.7],
  [2006.58,18.2],[2006.61,16.9],[2006.64,16.0],[2006.67,16.0],[2006.70,16.5],[2006.73,16.2]
];

// ---- Drawing -----------------------------------------------------------
const FONT = "'Liberation Sans', Arial, Helvetica, sans-serif";
const SERIF = "'Liberation Serif', 'Times New Roman', Times, serif";
const AXIS_GRAY = "#8c8c8c";
const GRID = "#666";
const styles = [
  { color: "#000", width: 2.9, dash: null },
  { color: "#000", width: 2.8, dash: "8,4" },
  { color: "#808080", width: 3.0, dash: null }
];

const svg = d3.select("#chart");
const plotLeft = 96, plotRight = 873;

const panels = [
  { title: panelTitles[0], titleY: 30, top: 67, bottom: 451, dateY: 523,
    legend: { x: 127, y: 73, w: 699, h: 40 },
    series: [cornNoncommercial, cornCommercial, cornNonreporting] },
  { title: panelTitles[1], titleY: 714, top: 752, bottom: 1146, dateY: 1218,
    legend: { x: 136, y: 762, w: 699, h: 41 },
    series: [cattleNoncommercial, cattleCommercial, cattleNonreporting] }
];

function drawPanel(p) {
  const g = svg.append("g");
  const x = d3.scaleLinear().domain([1995, 2006.725]).range([plotLeft, plotRight]);
  const y = d3.scaleLinear().domain([10, 60]).range([p.bottom, p.top]);

  // Title
  g.append("text")
    .attr("x", 462).attr("y", p.titleY)
    .attr("text-anchor", "middle").attr("dy", "0.35em")
    .attr("font-family", SERIF).attr("font-weight", "bold").attr("font-size", 26)
    .attr("fill", "#000").text(p.title);

  // Horizontal gridlines
  g.append("g")
    .attr("transform", `translate(${plotLeft},0)`)
    .call(d3.axisLeft(y).tickValues(percentTicks).tickSize(-(plotRight - plotLeft)).tickFormat(""))
    .call(a => {
      a.select(".domain").remove();
      a.selectAll("line").attr("stroke", GRID).attr("stroke-width", 1);
    });

  // Top frame line
  g.append("line")
    .attr("x1", plotLeft).attr("x2", plotRight)
    .attr("y1", p.top).attr("y2", p.top)
    .attr("stroke", AXIS_GRAY).attr("stroke-width", 2.2);

  // Y axis with labels
  g.append("g")
    .attr("transform", `translate(${plotLeft},0)`)
    .call(d3.axisLeft(y).tickValues(percentTicks).tickSize(6).tickSizeOuter(0).tickPadding(18))
    .call(a => {
      a.attr("font-family", FONT).attr("font-size", 20);
      a.select(".domain").attr("stroke", AXIS_GRAY).attr("stroke-width", 2.5);
      a.selectAll(".tick line").attr("stroke", AXIS_GRAY).attr("stroke-width", 1.5);
      a.selectAll(".tick text").attr("fill", "#000");
    });

  // X axis with year labels
  g.append("g")
    .attr("transform", `translate(0,${p.bottom})`)
    .call(d3.axisBottom(x).tickValues(yearTicks).tickFormat(d3.format("d"))
      .tickSize(6).tickSizeOuter(0).tickPadding(23))
    .call(a => {
      a.attr("font-family", FONT).attr("font-size", 20);
      a.select(".domain").attr("stroke", AXIS_GRAY).attr("stroke-width", 2.5);
      a.selectAll(".tick line").attr("stroke", AXIS_GRAY).attr("stroke-width", 1.5);
      a.selectAll(".tick text").attr("fill", "#000");
    });

  // Axis titles
  g.append("text")
    .attr("transform", `translate(20,${(p.top + p.bottom) / 2}) rotate(-90)`)
    .attr("text-anchor", "middle").attr("dy", "0.35em")
    .attr("font-family", FONT).attr("font-size", 20).attr("fill", "#000")
    .text("Percent");
  g.append("text")
    .attr("x", (plotLeft + plotRight) / 2).attr("y", p.dateY)
    .attr("text-anchor", "middle").attr("dy", "0.35em")
    .attr("font-family", FONT).attr("font-size", 20).attr("fill", "#000")
    .text("Date");

  // Series lines
  const line = d3.line().x(d => x(d[0])).y(d => y(d[1]));
  p.series.forEach((data, i) => {
    const s = styles[i];
    g.append("path")
      .datum(data)
      .attr("d", line)
      .attr("fill", "none")
      .attr("stroke", s.color)
      .attr("stroke-width", s.width)
      .attr("stroke-linejoin", "round")
      .attr("stroke-dasharray", s.dash);
  });

  // Legend
  const L = p.legend;
  const lg = g.append("g").attr("transform", `translate(${L.x},${L.y})`);
  lg.append("rect")
    .attr("width", L.w).attr("height", L.h)
    .attr("fill", "#fff").attr("stroke", AXIS_GRAY).attr("stroke-width", 2.5);
  const entryLine = [31, 276, 488];
  const entryText = [107, 351, 563];
  seriesNames.forEach((name, i) => {
    const s = styles[i];
    lg.append("line")
      .attr("x1", entryLine[i]).attr("x2", entryLine[i] + 69)
      .attr("y1", L.h / 2).attr("y2", L.h / 2)
      .attr("stroke", s.color).attr("stroke-width", s.width)
      .attr("stroke-dasharray", s.dash);
    lg.append("text")
      .attr("x", entryText[i]).attr("y", L.h / 2).attr("dy", "0.35em")
      .attr("font-family", FONT).attr("font-size", 20).attr("fill", "#000")
      .text(name);
  });
}

panels.forEach(drawPanel);
</script>
</body>
</html>
